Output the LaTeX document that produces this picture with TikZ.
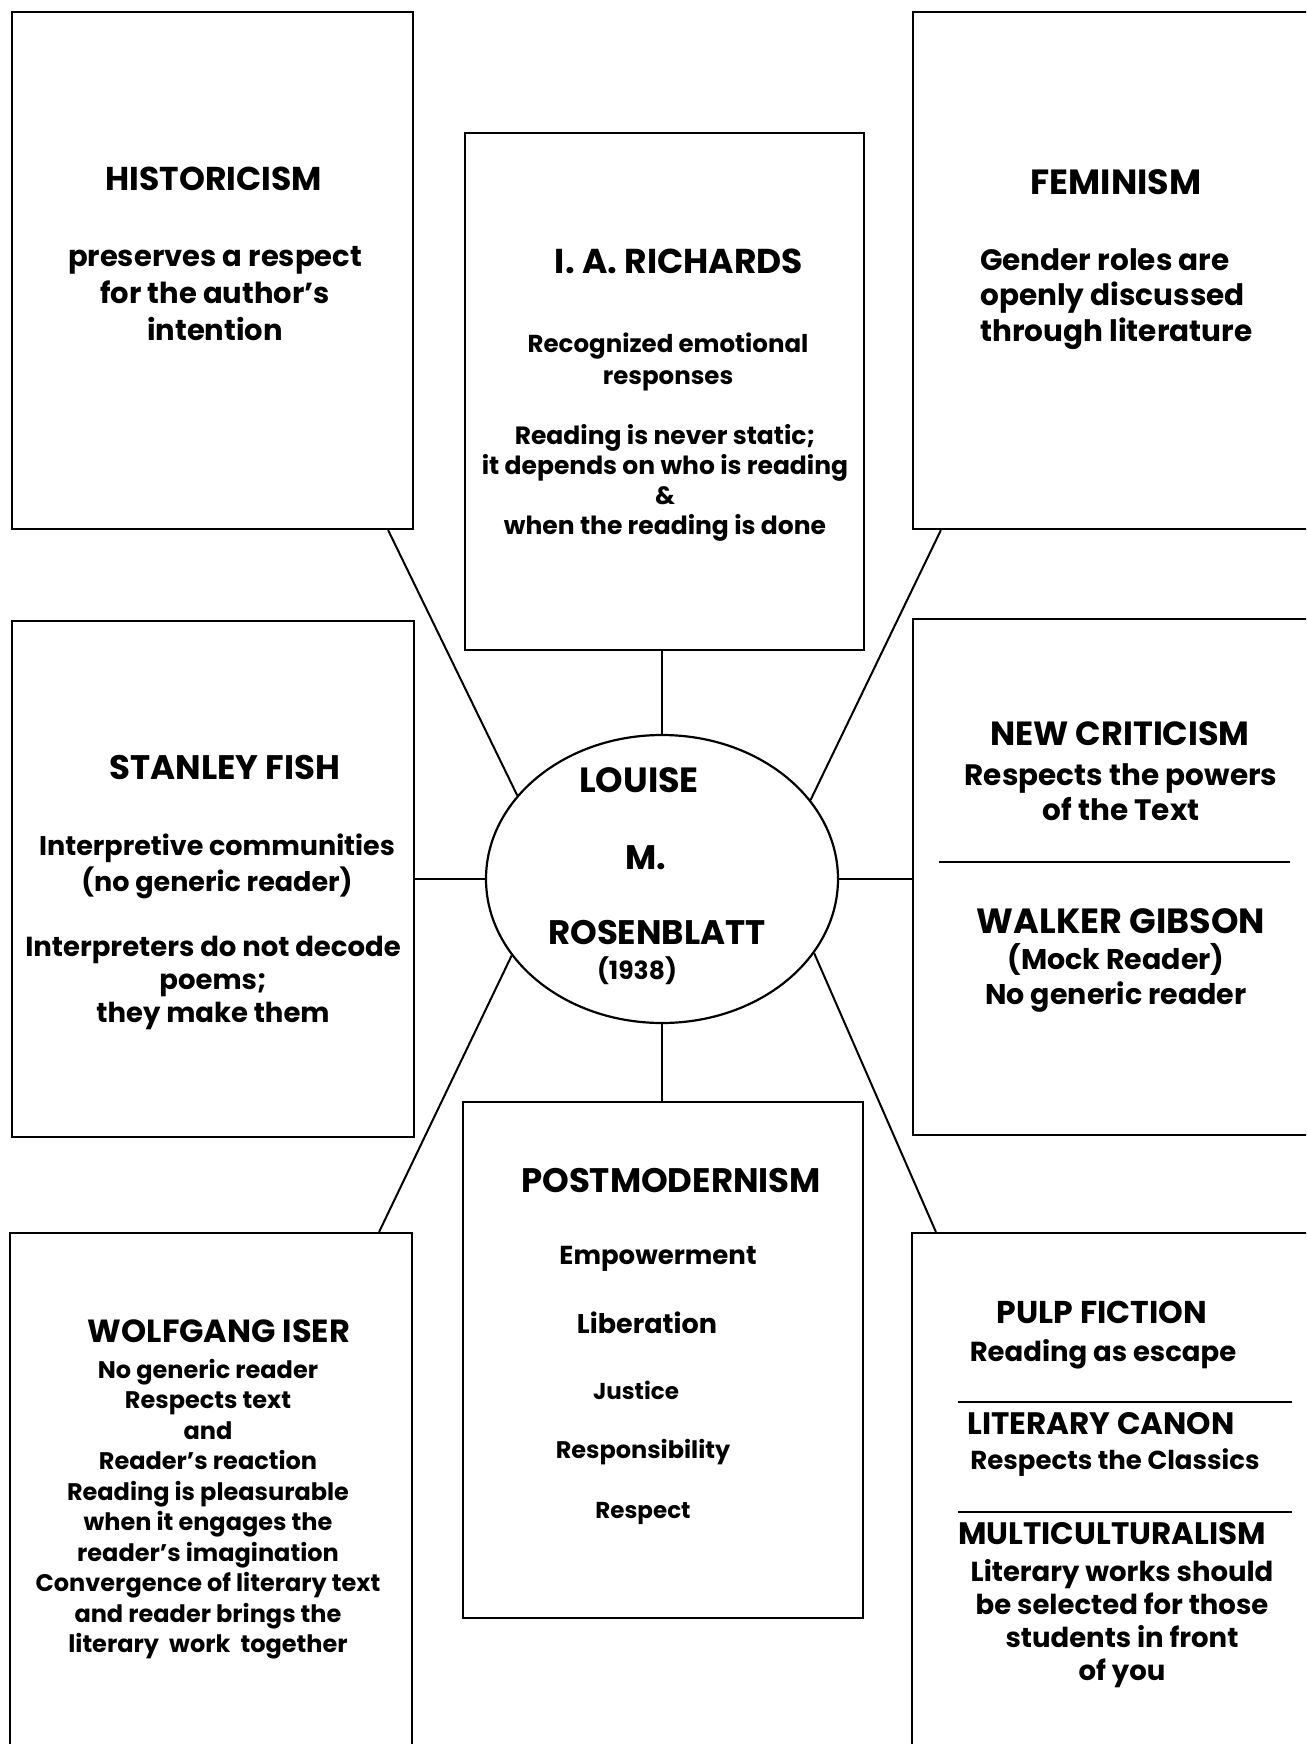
\documentclass[tikz,border=0pt]{standalone}
\usepackage{fontspec}
\setmainfont{Poppins}
\usetikzlibrary{shapes.geometric}

\tikzset{
  panel/.style={draw, line width=2.2pt, inner sep=0pt},
  hub/.style={draw, ellipse, line width=2.2pt, minimum width=352pt, minimum height=288pt, inner sep=0pt},
  head/.style={font=\bfseries\fontsize{#1}{#1}\selectfont, inner sep=0pt, align=center},
  head/.default=34,
  note/.style 2 args={font=\bfseries\fontsize{#1}{#2}\selectfont, inner sep=0pt, align=center},
  link/.style={line width=2pt},
}

\begin{document}
\begin{tikzpicture}[x=1pt,y=-1pt]
\useasboundingbox (0,0) rectangle (1306,1744);
\fill[white] (0,0) rectangle (1306,1744);
\clip (0,0) rectangle (1306,1744);

% the eight panels
\node[panel, minimum width=401, minimum height=517] (hist) at (212.5,270.5) {};
\node[panel, minimum width=399, minimum height=517] (rich) at (664.5,391.5) {};
\node[panel, minimum width=427, minimum height=517] (fem) at (1126.5,270.5) {};
\node[panel, minimum width=402, minimum height=516] (fish) at (213,879) {};
\node[panel, minimum width=427, minimum height=516] (newc) at (1126.5,877) {};
\node[panel, minimum width=402, minimum height=537] (iser) at (211,1501.5) {};
\node[panel, minimum width=400, minimum height=516] (post) at (663,1360) {};
\node[panel, minimum width=428, minimum height=537] (pulp) at (1126,1501.5) {};

% centre
\node[hub] (hub) at (662,879) {};

% spokes
\draw[link] (hub.north) -- (hub.north |- rich.south);
\draw[link] (hub.south) -- (hub.south |- post.north);
\draw[link] (hub.west) -- (hub.west -| fish.east);
\draw[link] (hub.east) -- (hub.east -| newc.west);
\draw[link] (hub.150) -- ([xshift=-26pt]hist.south east);
\draw[link] (hub.28) -- ([xshift=29pt]fem.south west);
\draw[link] (hub.207) -- ([xshift=-34pt]iser.north east);
\draw[link] (hub.334) -- ([xshift=25pt]pulp.north west);

% rules inside panels
\draw[line width=2pt] (939,862) -- (1290,862);
\draw[line width=2pt] (958,1402) -- (1292,1402);
\draw[line width=2pt] (958,1512) -- (1292,1512);

% centre text
\node[head=35] (louise) at (639,780) {LOUISE};
\node[head] (initial) at (646,858) {M.};
\node[head] (rosen) at (657,933) {ROSENBLATT};
\node[note={25}{28}] (year) at (637,971) {(1938)};

% historicism
\node[head=33] (histHead) at (214,179) {HISTORICISM};
\node[note={29}{37}] (histNote) at (215,294) {preserves a respect\\for the author's\\intention};

% richards
\node[head=34.5] (richHead) at (679,261) {I. A. RICHARDS};
\node[note={24.5}{32}] (richNoteA) at (668,362) {Recognized emotional\\responses};
\node[note={25}{30}] (richNoteB) at (665,483) {Reading is never static;\\it depends on who is reading\\\&\\when the reading is done};

% feminism
\node[head=35] (femHead) at (1116,182) {FEMINISM};
\node[note={29.5}{35.5}, align=left, anchor=west] (femNote) at (980,299) {Gender roles are\\openly discussed\\through literature};

% fish
\node[head] (fishHead) at (225,768) {STANLEY FISH};
\node[note={27}{36}] (fishNoteA) at (217,866) {Interpretive communities\\(no generic reader)};
\node[note={27.5}{33}] (fishNoteB) at (213,983) {Interpreters do not decode\\poems;\\they make them};

% new criticism / gibson
\node[head=33.5] (newcHead) at (1120,734) {NEW CRITICISM};
\node[note={29.5}{35}] (newcNote) at (1121,792) {Respects the powers\\of the Text};
\node[head=35] (gibHead) at (1121,921) {WALKER GIBSON};
\node[note={28.5}{35}] (gibNote) at (1116,978) {(Mock Reader)\\No generic reader};

% postmodernism
\node[head] (postHead) at (671,1181) {POSTMODERNISM};
\node[note={26}{26}] (postA) at (658,1259) {Empowerment};
\node[note={27}{27}] (postB) at (647,1323) {Liberation};
\node[note={23}{23}] (postC) at (636,1390) {Justice};
\node[note={24}{24}] (postD) at (643,1452) {Responsibility};
\node[note={23}{23}] (postE) at (643,1513) {Respect};

% iser
\node[head=32] (iserHead) at (219,1331) {WOLFGANG ISER};
\node[note={24}{30.5}] (iserNote) at (208,1509) {No generic reader\\Respects text\\and\\Reader's reaction\\Reading is pleasurable\\when it engages the\\reader's imagination\\Convergence of literary text\\and reader brings the\\literary\ \ work\ \ together};

% pulp / canon / multiculturalism
\node[head=31.5] (pulpHead) at (1102,1312) {PULP FICTION};
\node[note={27.5}{30}] (pulpNote) at (1103,1354) {Reading as escape};
\node[head=31] (canonHead) at (1101,1424) {LITERARY CANON};
\node[note={26}{30}] (canonNote) at (1115,1463) {Respects the Classics};
\node[head=31] (multiHead) at (1112,1534) {MULTICULTURALISM};
\node[note={27.5}{33}] (multiNote) at (1122,1624) {Literary works should\\be selected for those\\students in front\\of you};
\end{tikzpicture}
\end{document}
